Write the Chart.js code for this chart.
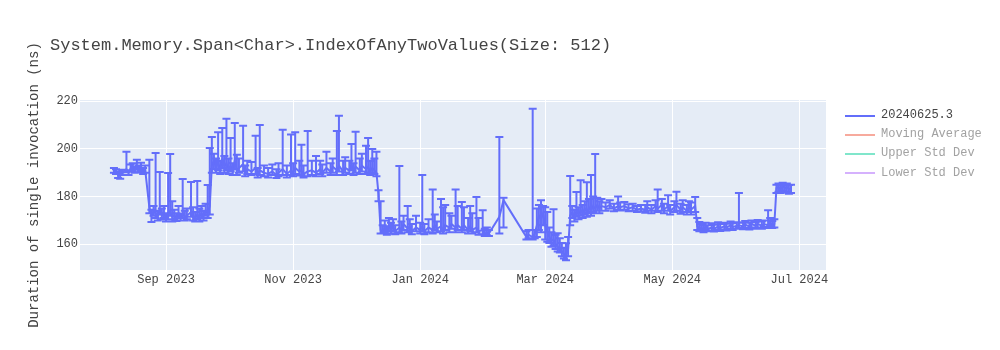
<!DOCTYPE html>
<html>
<head>
<meta charset="utf-8">
<script src="https://cdn.jsdelivr.net/npm/chart.js@4.4.1/dist/chart.umd.min.js"></script>
<style>
    body { margin: 0; background: #fff; }
    #wrap { position: relative; width: 1000px; height: 350px; font-family: "Liberation Mono", "Courier New", monospace; }
    #title { position: absolute; left: 50px; top: 36px; font-size: 17px; line-height: 20px; color: #444; white-space: pre; }
    #legend { position: absolute; left: 845px; top: 106px; font-size: 12px; }
    .item { position: relative; height: 19.2px; width: 150px; }
    .item .swatch { position: absolute; left: 0; top: 8.6px; width: 30px; height: 2px; }
    .item .label { position: absolute; left: 36px; top: 0; line-height: 19.2px; white-space: pre; }
</style>
</head>
<body>
<div id="wrap">
    <canvas id="chart" width="1000" height="350"></canvas>
    <div id="title">System.Memory.Span&lt;Char&gt;.IndexOfAnyTwoValues(Size: 512)</div>
    <div id="legend"></div>
</div>
<script>
// Run dates (one per measurement)
const dates = [
    "2023-08-07","2023-08-08","2023-08-09","2023-08-10","2023-08-11","2023-08-13","2023-08-14","2023-08-15",
    "2023-08-16","2023-08-17","2023-08-18","2023-08-19","2023-08-20","2023-08-21","2023-08-22",
    "2023-08-24","2023-08-25","2023-08-26","2023-08-27","2023-08-28","2023-08-29","2023-08-30","2023-08-31",
    "2023-09-01","2023-09-02","2023-09-03","2023-09-04","2023-09-05","2023-09-06","2023-09-07","2023-09-08",
    "2023-09-09","2023-09-10","2023-09-11","2023-09-13","2023-09-14","2023-09-15","2023-09-16","2023-09-17",
    "2023-09-18","2023-09-19","2023-09-20","2023-09-21","2023-09-22",
    "2023-09-23","2023-09-24","2023-09-25","2023-09-26","2023-09-27","2023-09-28","2023-09-29","2023-09-30",
    "2023-10-01","2023-10-02","2023-10-03","2023-10-04","2023-10-05","2023-10-06","2023-10-08","2023-10-09",
    "2023-10-10","2023-10-12","2023-10-14","2023-10-15","2023-10-16","2023-10-18","2023-10-20","2023-10-22",
    "2023-10-24","2023-10-25","2023-10-27","2023-10-29","2023-10-31","2023-11-01","2023-11-02","2023-11-04",
    "2023-11-05","2023-11-06","2023-11-08","2023-11-10","2023-11-12","2023-11-14","2023-11-15","2023-11-17",
    "2023-11-19","2023-11-20","2023-11-22","2023-11-23","2023-11-25","2023-11-26","2023-11-28","2023-11-29",
    "2023-11-30","2023-12-01","2023-12-03","2023-12-04","2023-12-06","2023-12-07","2023-12-08","2023-12-09",
    "2023-12-10","2023-12-11","2023-12-12","2023-12-13",
    "2023-12-14","2023-12-15","2023-12-16","2023-12-17","2023-12-18","2023-12-19","2023-12-20","2023-12-22",
    "2023-12-23","2023-12-24","2023-12-26","2023-12-27","2023-12-28","2023-12-30","2024-01-01","2024-01-02",
    "2024-01-03","2024-01-05","2024-01-07","2024-01-08","2024-01-09","2024-01-11","2024-01-12","2024-01-13",
    "2024-01-15","2024-01-16","2024-01-18","2024-01-19","2024-01-21","2024-01-22","2024-01-24","2024-01-25",
    "2024-01-26","2024-01-28","2024-01-29","2024-01-31","2024-02-01","2024-02-02","2024-02-03","2024-02-08",
    "2024-02-10","2024-02-21",
    "2024-02-22","2024-02-24","2024-02-25","2024-02-26","2024-02-27","2024-02-28","2024-02-29","2024-03-01",
    "2024-03-02","2024-03-03","2024-03-04","2024-03-05","2024-03-06","2024-03-07","2024-03-08","2024-03-09",
    "2024-03-10","2024-03-11","2024-03-12","2024-03-13",
    "2024-03-14","2024-03-15","2024-03-16","2024-03-17","2024-03-18","2024-03-19","2024-03-20","2024-03-21",
    "2024-03-22","2024-03-23","2024-03-24","2024-03-25","2024-03-26","2024-03-27","2024-03-28","2024-03-30",
    "2024-04-01","2024-04-03","2024-04-05","2024-04-06","2024-04-08","2024-04-10","2024-04-12","2024-04-14",
    "2024-04-16","2024-04-18","2024-04-19","2024-04-21","2024-04-23","2024-04-24","2024-04-26","2024-04-27",
    "2024-04-29","2024-04-30","2024-05-02","2024-05-03","2024-05-05","2024-05-06","2024-05-08","2024-05-09",
    "2024-05-10","2024-05-12",
    "2024-05-13","2024-05-14","2024-05-15","2024-05-16","2024-05-17","2024-05-18","2024-05-20","2024-05-21",
    "2024-05-23","2024-05-24","2024-05-26","2024-05-27","2024-05-29","2024-05-30","2024-06-01","2024-06-02",
    "2024-06-04","2024-06-05","2024-06-07","2024-06-08","2024-06-10","2024-06-11","2024-06-13","2024-06-14",
    "2024-06-16","2024-06-17","2024-06-18","2024-06-19",
    "2024-06-20","2024-06-21","2024-06-22","2024-06-23","2024-06-24","2024-06-25","2024-06-26","2024-06-27"
];

// Duration of single invocation (ns)
const durations = [
    191.0,190.5,189.0,188.8,190.2,191.5,190.0,191.8,
    192.5,191.0,192.8,191.5,192.0,190.5,191.2,
    175.5,172.0,174.0,173.0,171.5,174.5,172.0,173.0,
    171.0,172.5,174.0,171.5,172.0,171.0,172.5,171.0,
    173.0,171.5,172.0,173.5,172.0,171.0,172.5,171.5,
    173.0,172.0,174.0,173.0,176.0,
    193.0,195.0,192.0,194.5,191.0,196.0,192.5,194.0,
    191.5,193.0,190.5,195.0,191.0,192.0,193.5,190.0,
    191.5,190.5,192.0,189.5,191.0,190.0,189.5,190.5,
    189.0,190.0,191.5,189.5,191.0,190.0,192.0,190.5,
    191.0,189.5,190.5,191.0,190.0,191.5,190.0,192.0,
    190.5,192.5,191.0,193.0,190.5,192.0,191.0,193.5,
    190.5,192.5,191.0,193.0,191.5,192.5,190.5,192.0,
    191.0,190.0,181.0,166.0,
    165.5,167.0,165.0,168.0,166.0,167.5,165.5,167.0,
    166.0,168.5,166.5,167.5,165.5,167.0,166.0,167.5,
    165.5,167.0,166.0,168.0,166.5,167.5,166.0,168.0,
    167.0,168.5,167.0,168.0,166.5,168.0,166.0,167.5,
    166.0,167.0,165.5,166.0,164.0,165.0,164.5,171.5,
    178.5,163.0,
    164.0,163.0,164.5,168.0,172.0,170.5,173.0,168.0,
    165.0,163.0,161.5,162.0,160.0,159.0,158.0,157.0,
    156.0,155.5,158.0,172.0,
    173.5,171.5,174.0,172.5,174.5,173.0,175.0,173.5,
    175.5,174.0,176.0,175.0,176.5,175.0,176.0,175.5,
    176.5,175.0,176.0,175.5,176.0,175.0,175.5,174.5,
    175.0,174.5,175.5,174.5,176.0,175.0,176.5,174.5,
    176.0,174.0,175.5,176.5,174.5,175.5,174.0,175.5,
    174.5,176.0,
    167.5,166.5,167.0,166.0,167.5,166.5,167.0,166.5,
    167.5,166.8,167.5,167.0,168.0,167.2,167.8,168.0,
    167.5,168.2,167.5,168.5,167.8,168.5,167.8,168.5,
    168.0,169.0,168.0,168.5,
    183.5,184.0,183.0,184.5,183.5,184.0,183.0,183.5
];

// Upper end of each error bar
const upperBounds = [
    192.0,191.5,190.5,190.0,191.2,198.8,191.0,193.5,
    194.0,192.5,195.4,193.0,194.2,192.0,193.0,
    195.4,174.5,176.0,198.3,174.0,190.3,175.0,176.0,
    173.0,189.9,197.9,178.0,174.5,173.0,176.0,172.8,
    187.4,174.0,175.0,186.1,175.5,173.5,186.5,175.0,
    176.0,174.0,177.0,184.8,200.4,
    205.0,198.0,196.0,207.0,195.0,208.8,197.0,212.6,
    196.0,204.6,194.0,210.9,197.5,196.0,209.7,193.0,
    195.0,194.5,205.5,192.0,210.0,193.0,192.0,193.5,
    191.5,194.0,208.0,193.0,206.0,194.0,207.0,195.0,
    201.7,193.0,207.5,195.0,197.0,195.0,193.5,198.8,
    194.0,196.0,207.5,213.9,195.0,196.5,195.0,202.0,
    194.0,207.2,196.0,198.0,201.3,204.6,195.0,200.0,
    196.0,198.8,182.7,178.0,
    168.0,170.0,167.5,171.0,169.0,170.5,168.0,192.8,
    169.5,172.0,176.0,170.5,168.5,172.0,169.0,189.0,
    168.5,170.5,183.0,172.5,169.5,179.0,175.5,176.5,
    173.0,172.0,183.0,176.0,177.7,175.5,171.0,176.0,
    173.0,179.8,171.0,174.3,166.5,167.0,166.0,205.0,
    179.5,165.5,
    166.0,216.8,166.0,175.0,176.5,178.5,176.0,175.5,
    173.5,167.0,165.0,174.7,164.0,164.6,162.5,160.5,
    158.5,160.4,163.0,188.6,
    176.0,174.5,181.9,175.5,186.8,176.5,178.0,186.0,
    179.0,189.0,180.0,197.9,179.5,178.0,179.0,177.5,
    178.5,177.0,180.0,177.5,177.7,176.8,177.0,176.0,
    176.5,176.5,178.0,176.5,178.5,183.0,179.0,177.0,
    180.6,176.5,178.0,182.0,177.0,178.5,176.5,178.0,
    177.5,179.8,
    171.0,169.3,168.5,168.0,169.0,168.0,168.8,168.2,
    169.2,168.5,169.0,168.6,169.5,168.8,169.2,181.5,
    169.0,169.8,169.0,170.0,169.3,170.2,169.5,170.0,
    174.3,171.0,169.8,170.5,
    185.0,185.5,184.8,185.8,185.0,185.5,184.8,185.0
];

// Lower end of each error bar
const lowerBounds = [
    190.0,189.5,187.8,187.5,189.0,190.2,189.0,190.5,
    191.0,190.0,191.5,190.2,190.8,189.5,190.0,
    173.0,169.3,172.0,171.0,170.0,172.5,170.5,171.0,
    169.5,170.5,172.0,169.5,170.5,169.8,171.0,170.0,
    171.0,170.0,170.5,171.5,170.0,169.5,170.5,169.5,
    171.0,170.0,172.0,171.0,172.5,
    190.0,191.5,190.0,191.0,189.5,192.0,190.0,191.0,
    189.5,190.5,189.0,191.5,189.0,190.0,190.5,188.5,
    189.5,189.0,189.5,188.0,189.0,188.5,188.0,189.0,
    187.8,188.5,189.0,188.0,189.0,188.5,189.5,188.8,
    189.0,188.0,188.5,189.0,188.5,189.5,188.5,190.0,
    189.0,190.0,189.0,190.5,189.0,190.0,189.5,191.0,
    189.0,190.0,189.5,190.5,189.5,190.0,189.0,190.0,
    189.5,188.5,178.0,164.5,
    164.5,165.0,164.0,165.5,164.5,165.5,164.2,165.0,
    164.5,166.0,165.0,165.5,164.2,165.5,164.5,165.5,
    164.2,165.0,164.5,166.0,165.0,165.5,164.5,166.0,
    165.0,166.5,165.0,166.0,165.0,166.0,164.5,165.5,
    164.5,165.0,164.0,164.2,163.5,163.8,163.5,164.5,
    167.0,162.0,
    162.5,162.0,162.5,163.0,166.0,165.0,168.0,162.0,
    161.0,160.5,159.0,159.5,158.0,157.0,156.5,155.0,
    154.0,153.3,155.0,168.0,
    171.0,169.5,171.5,170.5,172.0,171.0,172.5,171.5,
    173.0,172.0,173.5,173.0,174.0,173.0,174.0,174.0,
    175.0,173.8,174.5,174.2,174.5,173.8,174.0,173.5,
    173.8,173.2,174.0,173.0,174.0,173.5,174.0,173.0,
    174.0,172.5,173.5,174.0,172.8,173.5,172.5,173.5,
    172.5,173.5,
    166.0,165.5,165.8,165.0,166.0,165.5,165.8,165.3,
    166.2,165.6,166.2,165.8,166.5,166.0,166.5,166.8,
    166.3,166.8,166.2,167.0,166.5,167.0,166.5,167.2,
    166.8,167.5,166.8,167.0,
    181.5,182.0,181.5,182.5,181.8,182.0,181.2,181.5
];

// Axis ticks and ranges
const xTickDates = ["2023-09-01", "2023-11-01", "2024-01-01", "2024-03-01", "2024-05-01", "2024-07-01"];
const xTickLabels = ["Sep 2023", "Nov 2023", "Jan 2024", "Mar 2024", "May 2024", "Jul 2024"];
const xRange = ["2023-07-21T17:00:00Z", "2024-07-13T19:00:00Z"];
const yTicks = [160, 180, 200, 220];
const yRange = [149.2, 220.5];

// Legend entries (only the first trace is shown, the others are toggled off)
const legendLabels = ["20240625.3", "Moving Average", "Upper Std Dev", "Lower Std Dev"];
const legendColors = ["#636efa", "#f7aa9d", "#80e6cb", "#d5b1fd"];
const legendTextColors = ["#444", "#a2a2a2", "#a2a2a2", "#a2a2a2"];

const lineColor = "#636efa";
const times = dates.map(d => Date.parse(d));

// build the legend
const legendDiv = document.getElementById("legend");
legendLabels.forEach((label, i) => {
    const item = document.createElement("div");
    item.className = "item";
    item.innerHTML = `<span class="swatch" style="background:${legendColors[i]}"></span>` +
        `<span class="label" style="color:${legendTextColors[i]}">${label}</span>`;
    legendDiv.appendChild(item);
});

// plot background
const plotBackground = {
    id: "plotBackground",
    beforeDraw(chart) {
        const { ctx, chartArea } = chart;
        ctx.save();
        ctx.fillStyle = "#E5ECF6";
        ctx.fillRect(chartArea.left, chartArea.top, chartArea.right - chartArea.left, chartArea.bottom - chartArea.top);
        ctx.restore();
    }
};

// error bars with caps
const errorBars = {
    id: "errorBars",
    afterDatasetsDraw(chart) {
        const { ctx, chartArea, scales } = chart;
        ctx.save();
        ctx.beginPath();
        ctx.rect(chartArea.left, chartArea.top, chartArea.right - chartArea.left, chartArea.bottom - chartArea.top);
        ctx.clip();
        ctx.strokeStyle = lineColor;
        ctx.lineWidth = 2;
        ctx.beginPath();
        times.forEach((t, i) => {
            const px = scales.x.getPixelForValue(t);
            const top = scales.y.getPixelForValue(upperBounds[i]);
            const bot = scales.y.getPixelForValue(lowerBounds[i]);
            ctx.moveTo(px, top); ctx.lineTo(px, bot);
            ctx.moveTo(px - 4, top); ctx.lineTo(px + 4, top);
            ctx.moveTo(px - 4, bot); ctx.lineTo(px + 4, bot);
        });
        ctx.stroke();
        ctx.restore();
    }
};

Chart.defaults.font.family = '"Liberation Mono", "Courier New", monospace';
Chart.defaults.color = "#444";

new Chart(document.getElementById("chart"), {
    type: "line",
    data: {
        datasets: [{
            label: legendLabels[0],
            data: times.map((t, i) => ({ x: t, y: durations[i] })),
            borderColor: lineColor,
            borderWidth: 2,
            pointRadius: 0,
            tension: 0,
            fill: false
        }]
    },
    options: {
        responsive: false,
        animation: false,
        layout: { padding: { top: 100, right: 174, left: 0, bottom: 0 } },
        plugins: {
            legend: { display: false },
            tooltip: { enabled: false }
        },
        scales: {
            x: {
                type: "linear",
                min: Date.parse(xRange[0]),
                max: Date.parse(xRange[1]),
                afterBuildTicks: (scale) => { scale.ticks = xTickDates.map(d => ({ value: Date.parse(d) })); },
                afterFit: (scale) => { scale.height = 80; },
                grid: { color: "#fff", lineWidth: 1, drawTicks: false },
                border: { display: false },
                ticks: {
                    autoSkip: false,
                    maxRotation: 0,
                    padding: 3,
                    font: { size: 12 },
                    color: "#444",
                    callback: (value, index) => xTickLabels[index]
                }
            },
            y: {
                min: yRange[0],
                max: yRange[1],
                afterBuildTicks: (scale) => { scale.ticks = yTicks.map(v => ({ value: v })); },
                afterFit: (scale) => { scale.width = 80; },
                grid: { color: "#fff", lineWidth: 1, drawTicks: false },
                border: { display: false },
                ticks: { padding: 2, font: { size: 12 }, color: "#444" },
                title: {
                    display: true,
                    text: "Duration of single invocation (ns)",
                    font: { size: 14 },
                    color: "#444",
                    padding: { top: 26, bottom: 0 }
                }
            }
        }
    },
    plugins: [plotBackground, errorBars]
});
</script>
</body>
</html>
